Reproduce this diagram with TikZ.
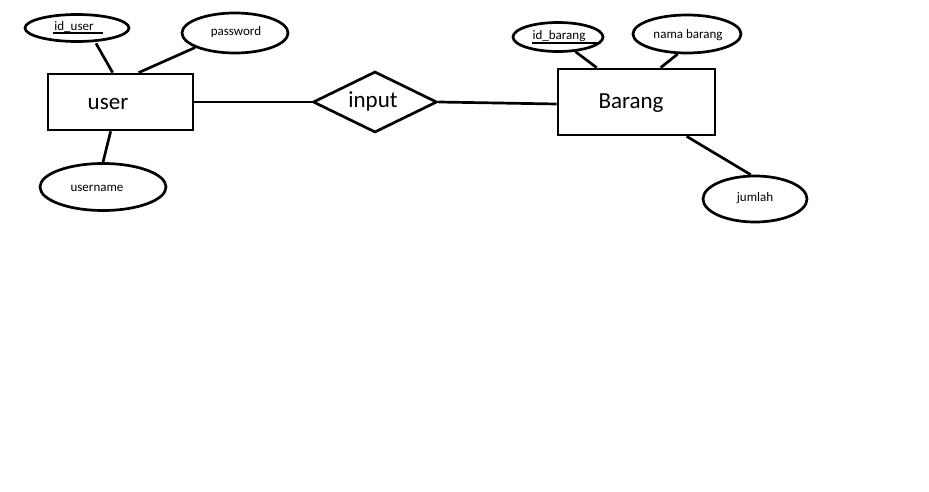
\documentclass[tikz,border=0pt]{standalone}
\usepackage{fontspec}
\setmainfont{Carlito}
\usetikzlibrary{shapes.geometric,calc}
\begin{document}
\begin{tikzpicture}[x=1pt,y=-1pt,
  lw/.style={line width=2.7pt},
  attr/.style={ellipse,draw,lw,inner sep=0pt,font=\fontsize{13}{15}\selectfont},
  ent/.style={rectangle,draw,lw,inner sep=0pt},
  big/.style={font=\fontsize{23}{26}\selectfont,inner sep=0pt},
  small/.style={font=\fontsize{13}{15}\selectfont,inner sep=0pt},
  conn/.style={lw}]
\useasboundingbox (0,0) rectangle (929,492);
% entities
\node[ent,minimum width=145pt,minimum height=56pt] (user) at (120.5,102) {};
\node[big] (usert) at (108,104) {user};
\node[ent,minimum width=157pt,minimum height=66pt] (brg) at (636.5,102) {};
\node[big] (brgt) at (631,103) {Barang};
% relation
\node[diamond,draw,lw,minimum width=124pt,minimum height=61pt,inner sep=0pt,aspect=2] (rel) at (375,102) {};
\node[big] (relt) at (373,101) {input};
% attributes
\node[attr,minimum width=104pt,minimum height=27pt] (idu) at (77,28) {};
\node[small] (idut) at (74,26.5) {id\_user};
\node[attr,minimum width=106pt,minimum height=40pt] (pw) at (235,33) {};
\node[small] (pwt) at (236,32) {password};
\node[attr,minimum width=126pt,minimum height=47pt] (un) at (103,187) {};
\node[small] (unt) at (97,188) {username};
\node[attr,minimum width=90pt,minimum height=29pt] (idb) at (558,37) {};
\node[small] (idbt) at (559,36.5) {id\_barang};
\node[attr,minimum width=108pt,minimum height=38pt] (nb) at (687,34) {};
\node[small] (nbt) at (688,35) {nama barang};
\node[attr,minimum width=104pt,minimum height=46pt] (jm) at (755,199) {};
\node[small] (jmt) at (755,198) {jumlah};
% key underlines
\draw[line width=2.4pt] ($(idu.center)+(-24,5)$) -- ($(idu.center)+(26,5)$);
\draw[line width=2.4pt] ($(idb.center)+(-26,6)$) -- ($(idb.center)+(42,6)$);
% connectors
\draw[conn] ($(idu.south)+(19,0.5)$) -- ($(user.north west)+(66,0)$);
\draw[conn] (pw.-160) -- ($(user.north west)+(92,0)$);
\draw[conn] (un.north) -- ($(user.south west)+(64,0)$);
\draw[conn] (user.east) -- (rel.west);
\draw[conn] (rel.east) -- ($(brg.west)+(0,2)$);
\draw[conn] (idb.-40) -- ($(brg.north west)+(40,0)$);
\draw[conn] (nb.-115) -- ($(brg.north west)+(104,0)$);
\draw[conn] ($(brg.south west)+(130,0)$) -- (jm.100);
\end{tikzpicture}
\end{document}
